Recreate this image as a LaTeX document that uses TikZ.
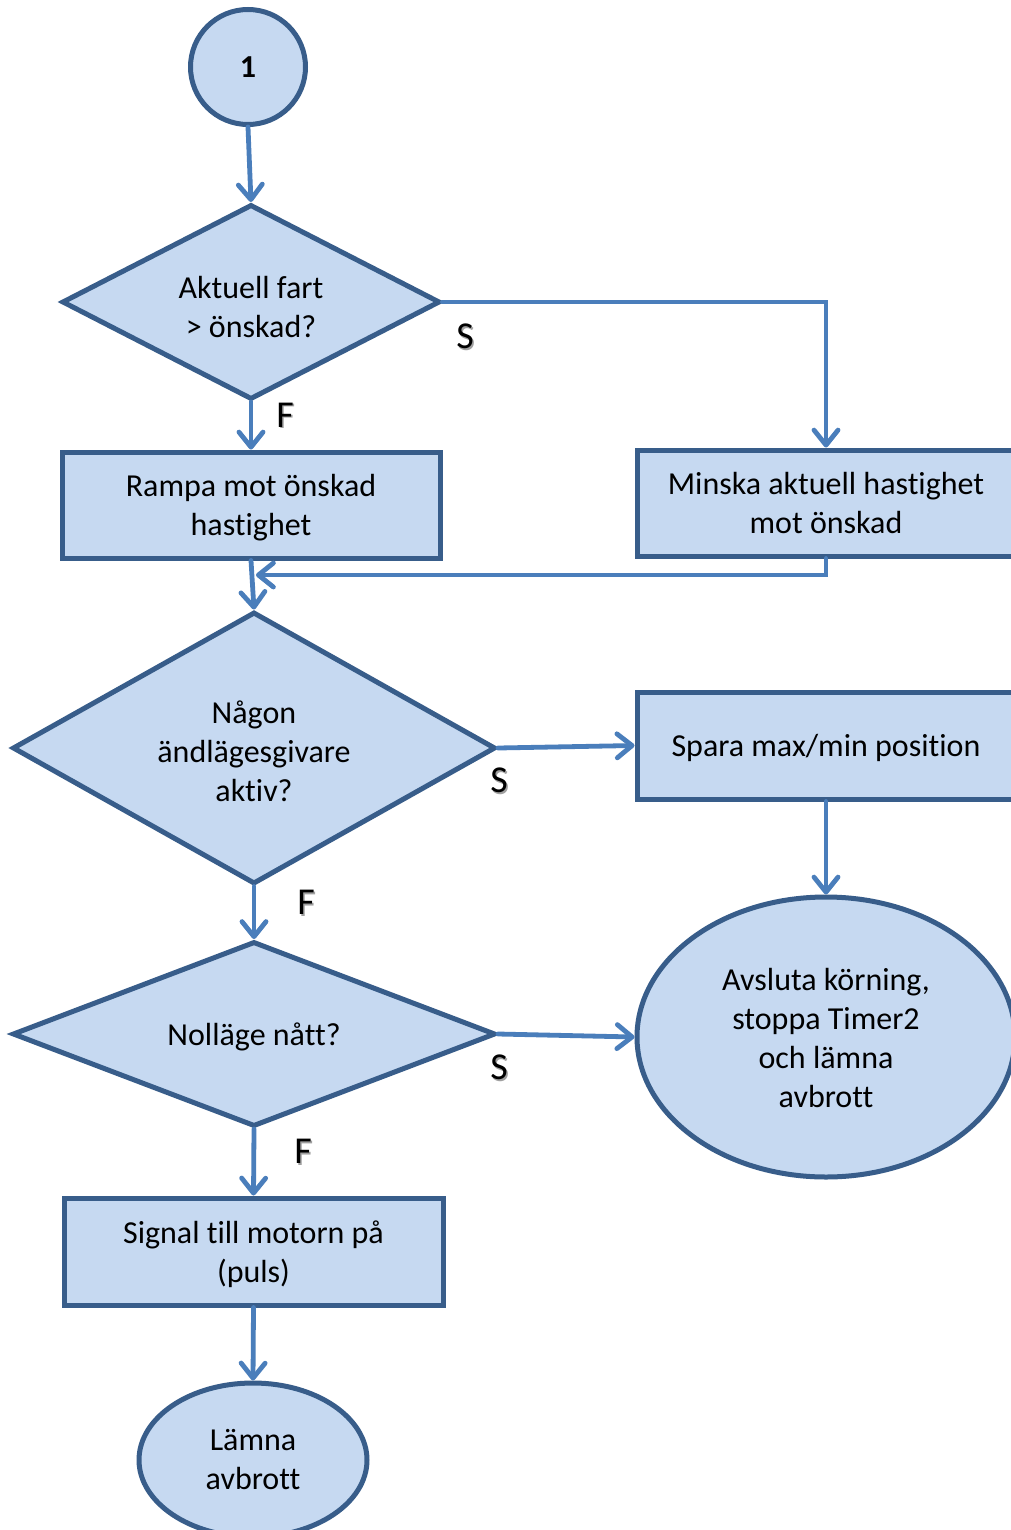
\documentclass[tikz,border=0pt]{standalone}
\usepackage{fontspec}
\setmainfont[Ligatures=NoCommon]{Carlito}
\usetikzlibrary{shapes.geometric,arrows.meta}
\definecolor{boxfill}{HTML}{C6D9F1}
\definecolor{boxline}{HTML}{385D8A}
\definecolor{flowline}{HTML}{4A7EBB}
\definecolor{textshade}{HTML}{A0A0A0}
% branch letters carry a faint grey shadow
\newcommand\shadedletter[1]{\makebox[0pt][l]{\hspace{0.8pt}\raisebox{-0.8pt}{\textcolor{textshade}{#1}}}#1}
% lowers a block of centred lines inside its shape, keeping the box size
\newcommand\lowered[2]{\raisebox{-#1}[\height][\depth]{\begin{tabular}{@{}c@{}}#2\end{tabular}}}
\begin{document}
\begin{tikzpicture}[x=0.5pt,y=-0.5pt,
  every node/.style={font=\fontsize{16pt}{19.5pt}\selectfont, align=center, inner sep=0pt},
  shapebase/.style={draw=boxline, fill=boxfill, line width=2.5pt},
  procbox/.style={shapebase, rectangle, minimum width=189pt, minimum height=53pt},
  decision/.style={shapebase, diamond},
  terminal/.style={shapebase, ellipse},
  flow/.style={draw=flowline, line width=2.4pt, line cap=round,
    -{Straight Barb[length=7.5pt,width=12pt,line width=2.4pt,round]}},
  branch/.style={font=\fontsize{19pt}{21pt}\selectfont},
]
\useasboundingbox (0,0) rectangle (1011,1530);
\fill[white] (0,0) rectangle (1011,1530);
\clip (0,0) rectangle (1011,1530);

% start connector
\node[shapebase, circle, minimum size=57.5pt, font=\fontsize{16pt}{19.5pt}\selectfont\bfseries] (start) at (248,67) {1};

% first decision and its two branches
\node[decision, minimum width=189pt, minimum height=97.5pt, aspect=1.94] (fart) at (251,302) {\lowered{4pt}{Aktuell fart\\> önskad?}};
\node[procbox] (rampa) at (251,505) {\lowered{1.6pt}{Rampa mot önskad\\hastighet}};
\node[procbox] (minska) at (826,503) {\lowered{1.6pt}{Minska aktuell hastighet\\mot önskad}};

% limit switch check
\node[decision, minimum width=241.5pt, minimum height=136pt, aspect=1.78] (givare) at (254,748) {\lowered{3.5pt}{Någon\\ändlägesgivare\\aktiv?}};
\node[procbox, minimum height=53.5pt] (spara) at (826,745.5) {\lowered{1.6pt}{Spara max/min position}};
\node[terminal, minimum width=189pt, minimum height=140pt] (avsluta) at (826,1037) {\lowered{2pt}{Avsluta körning,\\stoppa Timer2\\och lämna\\avbrott}};

% zero position check
\node[decision, minimum width=241.5pt, minimum height=92.5pt, aspect=2.61] (nollage) at (254,1034) {\lowered{2pt}{Nolläge nått?}};
\node[procbox, minimum width=189.5pt, minimum height=53.5pt] (signal) at (253.5,1251.5) {\lowered{2pt}{Signal till motorn på\\(puls)}};
\node[terminal, minimum width=114pt, minimum height=77pt] (lamna) at (253,1460) {Lämna\\avbrott};

% branch labels
\node[branch] (s1) at (465,337) {\shadedletter{S}};
\node[branch] (f1) at (285,416) {\shadedletter{F}};
\node[branch] (s2) at (499,781) {\shadedletter{S}};
\node[branch] (f2) at (306,903) {\shadedletter{F}};
\node[branch] (s3) at (499,1068) {\shadedletter{S}};
\node[branch] (f3) at (303,1152) {\shadedletter{F}};

\coordinate (merge) at (256,575);

% connectors
\draw[flow] (start.south) -- (fart.north);
\draw[flow] (fart.south) -- (rampa.north);
\draw[flow] (fart.east) -| (minska.north);
\draw[flow] (minska.south) |- (merge);
\draw[flow] (rampa.south) -- (givare.north);
\draw[flow] (givare.east) -- (spara.west);
\draw[flow] (spara.south) -- (avsluta.north);
\draw[flow] (givare.south) -- (nollage.north);
\draw[flow] (nollage.east) -- (avsluta.west);
\draw[flow] (nollage.south) -- (signal.north);
\draw[flow] (signal.south) -- (lamna.north);
\end{tikzpicture}
\end{document}
